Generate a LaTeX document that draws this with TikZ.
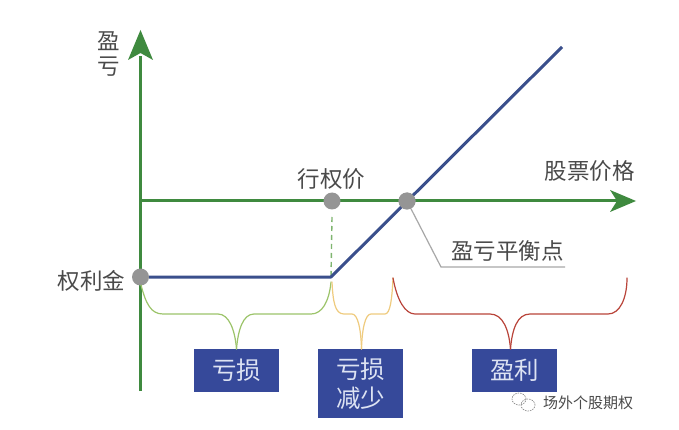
\documentclass[tikz,border=0pt]{standalone}
\usepackage{fontspec}
\setmainfont{Noto Sans CJK SC}
\begin{document}
\begin{tikzpicture}[x=1pt,y=-1pt,
  axisline/.style={draw=axisgreen,line width=3pt},
  head/.style={fill=axisgreen,draw=none},
  dotmark/.style={circle,fill=dotgray,draw=none,minimum size=17pt,inner sep=0pt},
  lab/.style={text=labgray,font=\fontsize{22.5}{23}\selectfont,inner sep=0pt},
  bluebox/.style={fill=boxblue,draw=none,text=boxtext,font=\fontsize{24.5}{28.5}\selectfont,inner sep=0pt,align=center,anchor=north west},
  brace/.style={line width=1.2pt,line cap=round}]
\definecolor{axisgreen}{HTML}{3F8A3F}
\definecolor{payoff}{HTML}{3A4F8C}
\definecolor{dotgray}{HTML}{959595}
\definecolor{labgray}{HTML}{4A4A4A}
\definecolor{boxblue}{HTML}{36499A}
\definecolor{boxtext}{HTML}{DDE3F3}
\definecolor{bracegreen}{HTML}{9CC46A}
\definecolor{braceyellow}{HTML}{EFCB7E}
\definecolor{bracered}{HTML}{B9443A}
\definecolor{leadergray}{HTML}{A8A8A8}
\definecolor{dashgreen}{HTML}{7FB56F}
\useasboundingbox (0,0) rectangle (679,430);
\fill[white] (0,0) rectangle (679,430);
% coordinates
\coordinate (vbot) at (140.5,391);
\coordinate (vtop) at (140.5,56);
\coordinate (hleft) at (140.5,201);
\coordinate (hright) at (618,201);
\coordinate (end) at (562,47);
\coordinate (kink) at (331,277);
\coordinate (lead) at (441,267);
\coordinate (leadend) at (565,267);
% axes
\draw[axisline] (vbot) -- (vtop);
\fill[head] (140.5,30) -- (153,60) -- (140.5,53) -- (128,60) -- cycle;
\draw[axisline] (hleft) -- (hright);
\fill[head] (636,201) -- (610,212) -- (617,201) -- (610,190) -- cycle;
% dots
\node[dotmark] (strike) at (332,201) {};
\node[dotmark] (even) at (407,201) {};
\node[dotmark] (prem) at (140.5,277) {};
% lines
\draw[draw=leadergray,line width=1.2pt] (even) -- (lead) -- (leadend);
\draw[draw=dashgreen,line width=1.4pt,dash pattern=on 5pt off 4pt] (332,217) -- (kink);
\draw[draw=payoff,line width=3pt,line join=round] (prem) -- (kink) -- (end);
\node[dotmark] at (even) {};
% labels
\node[lab] (yl1) at (109,41) {盈};
\node[lab] (yl2) at (109,67) {亏};
\node[lab] (xl) at (589.5,171) {股票价格};
\node[lab] (sl) at (331.5,179) {行权价};
\node[lab] (pl) at (91.5,281) {权利金};
\node[lab] (bl) at (507.5,251) {盈亏平衡点};
% boxes
\node[bluebox,minimum width=85pt,minimum height=43pt] (b1) at (194,349) {亏损};
\node[bluebox,minimum width=85pt,minimum height=69pt] (b2) at (318,349) {亏损\\减少};
\node[bluebox,minimum width=85pt,minimum height=43pt] (b3) at (472,349) {盈利};
% braces
\draw[brace,bracegreen] (141,285) .. controls (146,304) and (151,314) .. (163,314) -- (218,314) .. controls (229,314) and (235,330) .. (236.5,349);
\draw[brace,bracegreen] (236.5,349) .. controls (238,330) and (243,314) .. (254,314) -- (311,314) .. controls (322,314) and (329,302) .. (331,282);
\draw[brace,braceyellow] (332,282) .. controls (333,302) and (335,314) .. (344,314) -- (352,314) .. controls (358,314) and (361,330) .. (361.5,349);
\draw[brace,braceyellow] (361.5,349) .. controls (362,330) and (365,314) .. (371,314) -- (385,314) .. controls (390,314) and (392,300) .. (393,278);
\draw[brace,bracered] (393,278) .. controls (397,300) and (405,314) .. (415,314) -- (490,314) .. controls (503,314) and (509,330) .. (510.5,349);
\draw[brace,bracered] (510.5,349) .. controls (512,330) and (517,314) .. (530,314) -- (608,314) .. controls (620,314) and (627,298) .. (627,278);
% watermark
\draw[draw=labgray!60!white,line width=.7pt,dash pattern=on 1.5pt off 1pt] (519,399) ellipse (7pt and 6pt);
\draw[draw=labgray!60!white,line width=.7pt,dash pattern=on 1.5pt off 1pt] (528,405) ellipse (7pt and 6pt);
\node[text=labgray,font=\fontsize{15}{16}\selectfont,inner sep=0pt] (wm) at (588,403) {场外个股期权};
\end{tikzpicture}
\end{document}
